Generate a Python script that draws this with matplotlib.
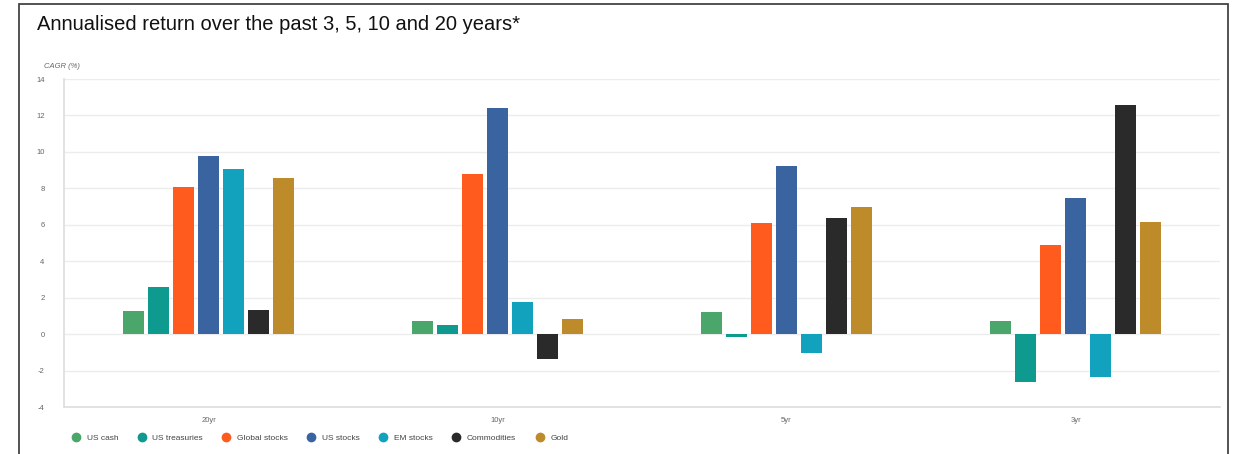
import numpy as np
import matplotlib
matplotlib.use("Agg")
import matplotlib.pyplot as plt
from matplotlib.lines import Line2D
from matplotlib.patches import Rectangle

periods = ["20yr", "10yr", "5yr", "3yr"]
assets = ["US cash", "US treasuries", "Global stocks", "US stocks",
          "EM stocks", "Commodities", "Gold"]
colors = ["#4aa66b", "#0f9a8f", "#ff5b1f", "#3a64a0",
          "#12a2bd", "#2a2a2a", "#bd8b2a"]

us_cash = [1.25, 0.7, 1.2, 0.7]
us_treasuries = [2.6, 0.5, -0.15, -2.65]
global_stocks = [8.1, 8.8, 6.1, 4.9]
us_stocks = [9.8, 12.4, 9.25, 7.45]
em_stocks = [9.05, 1.75, -1.05, -2.35]
commodities = [1.3, -1.35, 6.35, 12.6]
gold = [8.55, 0.85, 7.0, 6.15]
series = [us_cash, us_treasuries, global_stocks, us_stocks,
          em_stocks, commodities, gold]

yticks = list(range(-4, 15, 2))

plt.rcParams["font.family"] = ["Liberation Sans", "DejaVu Sans"]
plt.rcParams["axes.unicode_minus"] = False

fig = plt.figure(figsize=(12.33, 4.54), dpi=100)
W, H = 1233, 454
ax = fig.add_axes([64 / W, 1 - 407 / H, (1220 - 64) / W, (407 - 79) / H])

x = np.arange(len(periods))
step = 0.0865
width = 0.07
for i, (vals, c) in enumerate(zip(series, colors)):
    ax.bar(x + (i - 3) * step, vals, width=width, color=c, zorder=3)

ax.set_xlim(-0.5, 3.5)
ax.set_ylim(-4, 14)
ax.set_yticks(yticks)
ax.set_xticks(x)
ax.set_xticklabels(periods)
ax.tick_params(axis="both", length=0, labelsize=5.5, colors="#666666")
ax.tick_params(axis="y", pad=14)
ax.tick_params(axis="x", pad=7)
ax.grid(axis="y", color="#ececec", linewidth=1, zorder=0)
for s in ["top", "right"]:
    ax.spines[s].set_visible(False)
for s in ["left", "bottom"]:
    ax.spines[s].set_color("#dddddd")
    ax.spines[s].set_linewidth(1.2)

fig.text(37 / W, 1 - 25 / H, "Annualised return over the past 3, 5, 10 and 20 years*",
         fontsize=14.5, va="center", ha="left", color="#111111")
fig.text(44 / W, 1 - 67 / H, "CAGR (%)", fontsize=5.5, style="italic",
         color="#666666", va="center", ha="left")

handles = [Line2D([], [], marker="o", linestyle="", markersize=6,
                  markerfacecolor=c, markeredgecolor=c) for c in colors]
fig.legend(handles, assets, ncol=7, loc="center left",
           bbox_to_anchor=(60 / W, 1 - 438 / H), frameon=False,
           fontsize=6, handletextpad=0.3, columnspacing=1.8,
           labelcolor="#444444")

fig.patches.append(Rectangle((19 / W, -0.05), (1228 - 19) / W, 1.05 - 4 / H,
                             transform=fig.transFigure, fill=False,
                             edgecolor="#444444", linewidth=1.3))

fig.savefig("out.png", dpi=100)
